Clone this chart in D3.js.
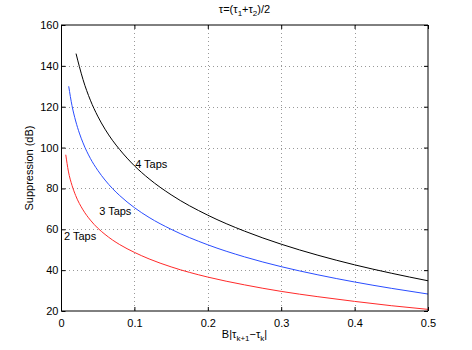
<!DOCTYPE html>
<html>
<head>
<meta charset="utf-8">
<script src="https://cdn.jsdelivr.net/npm/d3@7"></script>
<style>
  body { margin: 0; background: #fff; }
  svg { display: block; font-family: "Liberation Sans", Arial, sans-serif; }
  .tick text { font-size: 11px; fill: #000; }
</style>
</head>
<body>
<div id="chart"></div>
<script>
// valeurs
const xTicks = [0, 0.1, 0.2, 0.3, 0.4, 0.5];
const yTicks = [20, 40, 60, 80, 100, 120, 140, 160];

const x2 = [0.0065, 0.01, 0.015, 0.02, 0.03, 0.04, 0.05, 0.06, 0.07, 0.08, 0.1, 0.12, 0.15, 0.2, 0.25, 0.3, 0.35, 0.4, 0.45, 0.5];
const taps2 = [96.5, 88.5, 81.5, 76.5, 69.5, 64.5, 60.6, 57.5, 54.8, 52.5, 48.7, 45.5, 41.6, 36.6, 32.8, 29.6, 27.0, 24.7, 22.6, 20.8];

const x3 = [0.0105, 0.015, 0.02, 0.025, 0.03, 0.04, 0.05, 0.06, 0.07, 0.08, 0.1, 0.12, 0.15, 0.2, 0.25, 0.3, 0.35, 0.4, 0.45, 0.5];
const taps3 = [130, 120.5, 113.0, 107.1, 102.3, 94.7, 88.9, 84.1, 80.0, 76.5, 70.6, 65.8, 60.0, 52.4, 46.5, 41.7, 37.7, 34.2, 31.1, 28.3];

const x4 = [0.0205, 0.025, 0.03, 0.04, 0.05, 0.06, 0.07, 0.08, 0.1, 0.12, 0.15, 0.2, 0.25, 0.3, 0.35, 0.4, 0.45, 0.5];
const taps4 = [146, 139.7, 133.3, 123.2, 115.4, 109.0, 103.6, 99.0, 91.1, 84.7, 76.9, 66.9, 59.1, 52.7, 47.3, 42.6, 38.5, 34.8];

const series = [
  { name: '2 Taps', xs: x2, ys: taps2, color: '#ff2a2a', label: [0.004, 56.5] },
  { name: '3 Taps', xs: x3, ys: taps3, color: '#2a4dff', label: [0.052, 69] },
  { name: '4 Taps', xs: x4, ys: taps4, color: '#000000', label: [0.101, 92] }
];

const W = 472, H = 350;
const mLeft = 61, mRight = 428, mTop = 25, mBottom = 311;

const svg = d3.select('#chart').append('svg')
  .attr('width', W)
  .attr('height', H);

const x = d3.scaleLinear().domain([0, 0.5]).range([mLeft, mRight]);
const y = d3.scaleLinear().domain([20, 160]).range([mBottom, mTop]);

// grille en pointillés
svg.append('g')
  .selectAll('line')
  .data(xTicks.slice(1, -1))
  .enter().append('line')
  .attr('x1', d => Math.round(x(d)) + 0.5)
  .attr('x2', d => Math.round(x(d)) + 0.5)
  .attr('y1', mTop)
  .attr('y2', mBottom)
  .attr('stroke', '#999')
  .attr('stroke-dasharray', '1,3');

svg.append('g')
  .selectAll('line')
  .data(yTicks.slice(1, -1))
  .enter().append('line')
  .attr('x1', mLeft)
  .attr('x2', mRight)
  .attr('y1', d => Math.round(y(d)) + 0.5)
  .attr('y2', d => Math.round(y(d)) + 0.5)
  .attr('stroke', '#999')
  .attr('stroke-dasharray', '1,3');

// courbes
const line = d3.line()
  .x(d => x(d[0]))
  .y(d => y(d[1]))
  .curve(d3.curveMonotoneX);

svg.append('g')
  .selectAll('path')
  .data(series)
  .enter().append('path')
  .attr('d', s => line(s.xs.map((v, i) => [v, s.ys[i]])))
  .attr('fill', 'none')
  .attr('stroke', s => s.color)
  .attr('stroke-width', 1);

// étiquettes des courbes
svg.append('g')
  .selectAll('text')
  .data(series)
  .enter().append('text')
  .attr('x', s => x(s.label[0]))
  .attr('y', s => y(s.label[1]))
  .attr('dy', '0.35em')
  .attr('font-size', '11px')
  .text(s => s.name);

// axes (ticks vers l'intérieur, style matlab)
const tickLen = 4;
svg.append('g')
  .attr('transform', `translate(0,${mBottom})`)
  .call(d3.axisBottom(x).tickValues(xTicks).tickSize(-tickLen).tickPadding(8).tickFormat(d3.format('~g')))
  .call(g => g.select('.domain').remove());

svg.append('g')
  .attr('transform', `translate(0,${mTop})`)
  .call(d3.axisTop(x).tickValues(xTicks).tickSize(-tickLen).tickFormat(''))
  .call(g => g.select('.domain').remove());

svg.append('g')
  .attr('transform', `translate(${mLeft + 0.5},0)`)
  .call(d3.axisLeft(y).tickValues(yTicks).tickSize(-tickLen).tickPadding(3))
  .call(g => g.select('.domain').remove());

svg.append('g')
  .attr('transform', `translate(${mRight},0)`)
  .call(d3.axisRight(y).tickValues(yTicks).tickSize(-tickLen).tickFormat(''))
  .call(g => g.select('.domain').remove());

// cadre
svg.append('line').attr('x1', mLeft + 0.5).attr('x2', mLeft + 0.5).attr('y1', mTop).attr('y2', mBottom).attr('stroke', '#000');
svg.append('line').attr('x1', mLeft).attr('x2', mRight).attr('y1', mTop).attr('y2', mTop).attr('stroke', '#000');
svg.append('line').attr('x1', mLeft).attr('x2', mRight).attr('y1', mBottom).attr('y2', mBottom).attr('stroke', '#000');
svg.append('line').attr('x1', mRight).attr('x2', mRight).attr('y1', mTop).attr('y2', mBottom).attr('stroke', '#000');

// titre
const title = svg.append('text')
  .attr('x', (mLeft + mRight) / 2)
  .attr('y', 13)
  .attr('text-anchor', 'middle')
  .attr('font-size', '11px');
title.append('tspan').text('τ=(τ');
title.append('tspan').attr('dy', 3).attr('font-size', '8px').text('1');
title.append('tspan').attr('dy', -3).text('+τ');
title.append('tspan').attr('dy', 3).attr('font-size', '8px').text('2');
title.append('tspan').attr('dy', -3).text(')/2');

// titre axe x
const xl = svg.append('text')
  .attr('x', (mLeft + mRight) / 2)
  .attr('y', 338)
  .attr('text-anchor', 'middle')
  .attr('font-size', '11px');
xl.append('tspan').text('B|τ');
xl.append('tspan').attr('dy', 3).attr('font-size', '8px').text('k+1');
xl.append('tspan').attr('dy', -3).text('−τ');
xl.append('tspan').attr('dy', 3).attr('font-size', '8px').text('k');
xl.append('tspan').attr('dy', -3).text('|');

// titre axe y
svg.append('text')
  .attr('transform', `translate(33,${(mTop + mBottom) / 2}) rotate(-90)`)
  .attr('text-anchor', 'middle')
  .attr('font-size', '11px')
  .text('Suppression (dB)');
</script>
</body>
</html>
